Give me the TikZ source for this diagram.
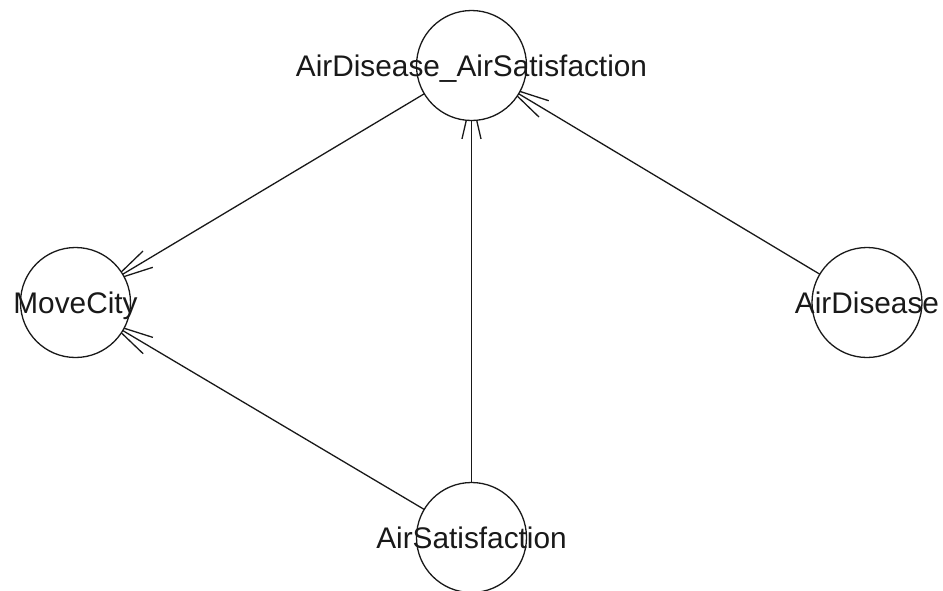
\documentclass[tikz,border=0pt]{standalone}
\usepackage{fontspec}
\setmainfont{Liberation Sans}
\usetikzlibrary{arrows.meta}
\pgfdeclarelayer{bg}
\pgfsetlayers{bg,main}
\begin{document}
\begin{tikzpicture}[x=1pt,y=-1pt,
  vert/.style={circle,draw=black!90,fill=white,line width=1.3pt,minimum size=110pt,inner sep=0pt},
  lab/.style={font=\fontsize{29.8}{30}\selectfont,text=black!90,text height=21.5pt,text depth=0pt,inner sep=0pt},
  edgeline/.style={draw=black!90,line width=1.3pt,-{Straight Barb[length=41pt,width=19pt]}}]
\clip (0,0) rectangle (943,590);
\node[vert,label={[lab]center:AirDisease\_AirSatisfaction}] (ds) at (471.5,65.5) {};
\node[vert,label={[lab]center:MoveCity}] (mc) at (75.5,302.5) {};
\node[vert,label={[lab]center:AirDisease}] (ad) at (867,302.5) {};
\node[vert,label={[lab]center:AirSatisfaction}] (as) at (471.5,537.5) {};
\begin{pgfonlayer}{bg}
\draw[edgeline,shorten >=40.5pt] (ds.center) -- (mc.center);
\draw[edgeline,shorten >=40.5pt] (as.center) -- (mc.center);
\draw[edgeline,shorten >=29.5pt] (as.center) -- (ds.center);
\draw[edgeline,shorten >=40.5pt] (ad.center) -- (ds.center);
\end{pgfonlayer}
\end{tikzpicture}
\end{document}
